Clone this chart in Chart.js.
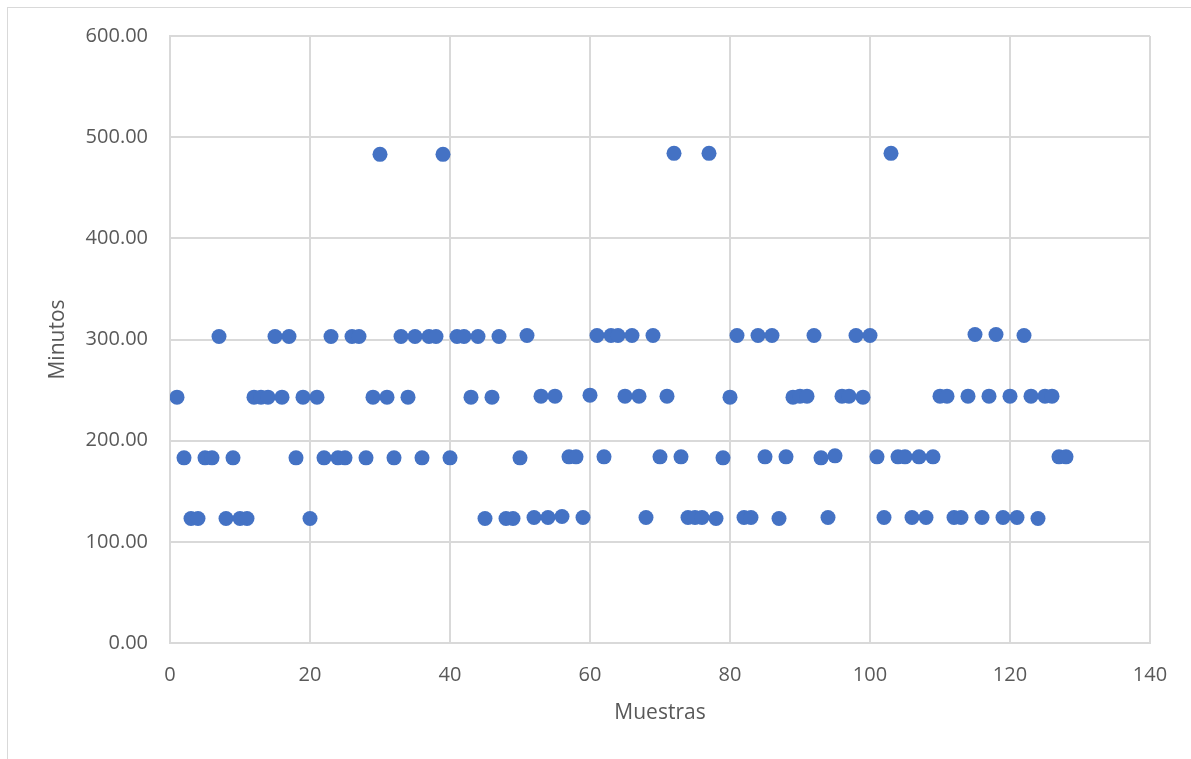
<!DOCTYPE html>
<html>
<head>
<meta charset="utf-8">
<script src="https://cdn.jsdelivr.net/npm/chart.js@4.4.1/dist/chart.umd.min.js"></script>
<style>
  html, body { margin:0; padding:0; background:#fff; overflow:hidden; }
  #wrap { position:relative; width:1191px; height:759px; }
  #frame { position:absolute; left:7px; top:7px; width:1200px; height:800px; border:1px solid #d9d9d9; box-sizing:border-box; }
  canvas { position:absolute; left:0; top:0; }
</style>
</head>
<body>
<div id="wrap">
  <div id="frame"></div>
  <canvas id="c" width="1191" height="759"></canvas>
</div>
<script>
// ── Data ──────────────────────────────────────────────────────
const muestras = Array.from({ length: 128 }, (_, i) => i + 1);
const minutos = [
  243, 183, 123, 123, 183, 183, 303, 123, 183, 123,
  123, 243, 243, 243, 303, 243, 303, 183, 243, 123,
  243, 183, 303, 183, 183, 303, 303, 183, 243, 483,
  243, 183, 303, 243, 303, 183, 303, 303, 483, 183,
  303, 303, 243, 303, 123, 243, 303, 123, 123, 183,
  304, 124, 244, 124, 244, 125, 184, 184, 124, 245,
  304, 184, 304, 304, 244, 304, 244, 124, 304, 184,
  244, 484, 184, 124, 124, 124, 484, 123, 183, 243,
  304, 124, 124, 304, 184, 304, 123, 184, 243, 244,
  244, 304, 183, 124, 185, 244, 244, 304, 243, 304,
  184, 124, 484, 184, 184, 124, 184, 124, 184, 244,
  244, 124, 124, 244, 305, 124, 244, 305, 124, 244,
  124, 304, 244, 123, 244, 244, 184, 184
];
const xTicks = [0, 20, 40, 60, 80, 100, 120, 140];
const yTicks = [0, 100, 200, 300, 400, 500, 600];

const C = { dot:'#4472c4', grid:'#d9d9d9', text:'#595959' };
const FONT = "'Open Sans', 'Liberation Sans', sans-serif";

new Chart(document.getElementById('c'), {
  type:'scatter',
  data:{ datasets:[{
    data: muestras.map((m, i) => ({ x:m, y:minutos[i] })),
    backgroundColor:C.dot, borderColor:C.dot, borderWidth:0,
    pointRadius:7.5, pointHoverRadius:7.5,
  }] },
  options:{
    responsive:false, animation:false,
    layout:{ padding:{ left:45, top:36, right:41, bottom:33 } },
    plugins:{ legend:{ display:false }, tooltip:{ enabled:false } },
    scales:{
      x:{
        type:'linear', min:0, max:140,
        afterBuildTicks: s => { s.ticks = xTicks.map(v => ({ value:v })); },
        afterFit: s => { s.height = 83; },
        grid:{ color:C.grid, lineWidth:2, drawTicks:false },
        border:{ color:C.grid, width:2 },
        ticks:{ color:C.text, font:{ family:FONT, size:20 }, padding:20, maxRotation:0 },
        title:{ display:true, text:'Muestras', color:C.text, font:{ family:FONT, size:21 }, padding:0 },
      },
      y:{
        type:'linear', min:0, max:600,
        afterBuildTicks: s => { s.ticks = yTicks.map(v => ({ value:v })); },
        afterFit: s => { s.width = 125; },
        grid:{ color:C.grid, lineWidth:2, drawTicks:false },
        border:{ color:C.grid, width:2 },
        ticks:{ color:C.text, font:{ family:FONT, size:20 }, padding:22, callback: v => v.toFixed(2) },
        title:{ display:true, text:'Minutos', color:C.text, font:{ family:FONT, size:21 }, padding:0 },
      },
    },
  },
});
</script>
</body>
</html>
